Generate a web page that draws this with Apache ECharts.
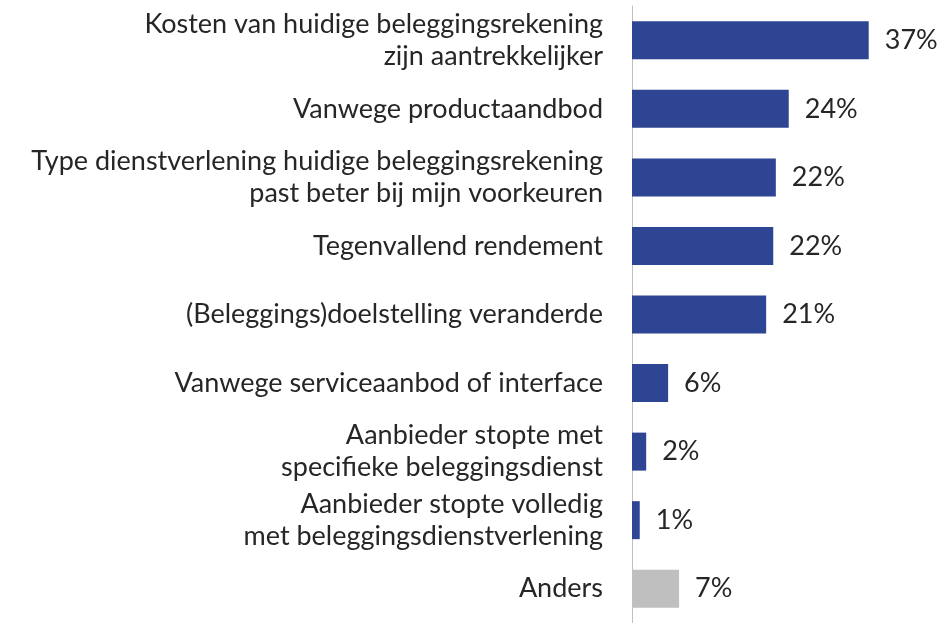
<!DOCTYPE html>
<html>
<head>
<meta charset="utf-8">
<script src="https://cdn.jsdelivr.net/npm/echarts@6/dist/echarts.min.js"></script>
<style>
html, body { margin: 0; padding: 0; background: #fff; }
#chart { width: 944px; height: 623px; }
</style>
</head>
<body>
<div id="chart"></div>
<script>
// categorieen en percentages
var categories = [
	'Kosten van huidige beleggingsrekening\nzijn aantrekkelijker',
	'Vanwege productaandbod',
	'Type dienstverlening huidige beleggingsrekening\npast beter bij mijn voorkeuren',
	'Tegenvallend rendement',
	'(Beleggings)doelstelling veranderde',
	'Vanwege serviceaanbod of interface',
	'Aanbieder stopte met\nspecifieke beleggingsdienst',
	'Aanbieder stopte volledig\nmet beleggingsdienstverlening',
	'Anders'
];
var values = [36.7, 24.3, 22.3, 21.9, 20.8, 5.6, 2.2, 1.2, 7.3];
var colors = ['#2E4593', '#2E4593', '#2E4593', '#2E4593', '#2E4593', '#2E4593', '#2E4593', '#2E4593', '#BFBFBF'];

var fontName = 'Lato, "Open Sans", sans-serif';

function initChart(){
	var barData = [];
	for (var i = 0; i < values.length; i++) {
		barData.push({ value: values[i], itemStyle: { color: colors[i] } });
	}
	var chart = echarts.init(document.getElementById('chart'));
	chart.setOption({
		animation: false,
		grid: {
			left: 632,
			top: 6,
			width: 258,
			height: 621
		},
		xAxis: {
			type: 'value',
			min: 0,
			max: 40,
			show: false
		},
		yAxis: {
			type: 'category',
			inverse: true,
			data: categories,
			axisLine: { lineStyle: { color: '#BFBFBF', width: 1 } },
			axisTick: { length: 9, lineStyle: { color: '#BFBFBF' } },
			axisLabel: {
				margin: 29,
				color: '#262626',
				fontFamily: fontName,
				fontSize: 27,
				lineHeight: 32,
				align: 'right'
			}
		},
		series: [{
			type: 'bar',
			data: barData,
			barWidth: 38,
			label: {
				show: true,
				position: 'right',
				distance: 16,
				color: '#262626',
				fontFamily: fontName,
				fontSize: 27,
				formatter: function (p) { return Math.round(p.value) + '%'; }
			}
		}]
	});
}
initChart();
</script>
</body>
</html>
